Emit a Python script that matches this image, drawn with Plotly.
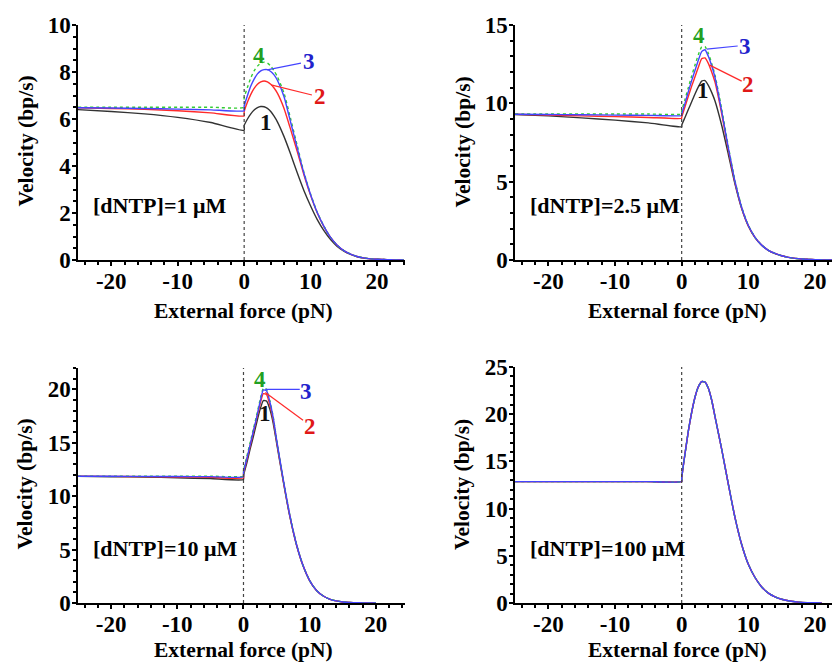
import plotly.graph_objects as go

# external force (pN); 0 appears twice because of the jump at zero force
force = [-25, -20, -15, -10, -5, 0, 0, 0.5, 1, 1.5, 2, 2.5, 3, 3.5, 4, 4.5, 5,
         6, 7, 8, 9, 10, 11, 12, 13, 14, 15, 16, 17, 18, 19, 20, 21, 22, 23, 24]

# [dNTP] = 1 uM
v1_black = [6.40, 6.32, 6.22, 6.07, 5.85, 5.52, 5.72, 6.00, 6.22, 6.38, 6.48, 6.53, 6.52, 6.45, 6.32, 6.12, 5.88,
            5.25, 4.50, 3.70, 2.95, 2.30, 1.72, 1.25, 0.87, 0.58, 0.38, 0.24, 0.14, 0.08, 0.05, 0.03, 0.02, 0.01, 0.0, 0.0]
v1_red = [6.48, 6.45, 6.41, 6.35, 6.26, 6.13, 6.30, 6.72, 7.05, 7.30, 7.48, 7.58, 7.62, 7.58, 7.48, 7.32, 7.10,
          6.45, 5.55, 4.60, 3.62, 2.75, 2.00, 1.42, 0.96, 0.63, 0.40, 0.25, 0.15, 0.09, 0.05, 0.03, 0.02, 0.01, 0.0, 0.0]
v1_blue = [6.48, 6.47, 6.45, 6.42, 6.39, 6.35, 6.55, 7.00, 7.40, 7.70, 7.92, 8.05, 8.10, 8.10, 8.02, 7.88, 7.65,
           6.95, 5.85, 4.75, 3.68, 2.78, 2.02, 1.43, 0.96, 0.63, 0.40, 0.25, 0.15, 0.09, 0.05, 0.03, 0.02, 0.01, 0.0, 0.0]
v1_green = [6.50, 6.50, 6.50, 6.50, 6.50, 6.50, 6.90, 7.35, 7.75, 8.05, 8.25, 8.38, 8.42, 8.38, 8.25, 8.05, 7.80,
            7.10, 6.00, 4.85, 3.72, 2.80, 2.03, 1.44, 0.96, 0.63, 0.40, 0.25, 0.15, 0.09, 0.05, 0.03, 0.02, 0.01, 0.0, 0.0]

# [dNTP] = 2.5 uM
v2_black = [9.28, 9.20, 9.07, 8.93, 8.75, 8.50, 8.60, 9.10, 9.60, 10.10, 10.60, 11.05, 11.42, 11.45, 11.15, 10.70, 10.15,
            8.60, 6.75, 4.85, 3.28, 2.17, 1.43, 0.94, 0.62, 0.41, 0.27, 0.17, 0.10, 0.06, 0.04, 0.02, 0.01, 0.0, 0.0, None]
v2_red = [9.30, 9.25, 9.20, 9.15, 9.10, 9.04, 9.10, 9.78, 10.45, 11.10, 11.70, 12.30, 12.85, 12.90, 12.55, 12.00, 11.35,
          9.35, 7.05, 4.95, 3.32, 2.18, 1.44, 0.95, 0.62, 0.42, 0.27, 0.17, 0.10, 0.06, 0.04, 0.02, 0.01, 0.0, 0.0, None]
v2_blue = [9.30, 9.29, 9.27, 9.25, 9.23, 9.22, 9.30, 10.00, 10.75, 11.45, 12.10, 12.75, 13.30, 13.42, 13.00, 12.40, 11.65,
           9.50, 7.15, 5.00, 3.35, 2.20, 1.45, 0.95, 0.62, 0.42, 0.27, 0.17, 0.10, 0.06, 0.04, 0.02, 0.01, 0.0, 0.0, None]
v2_green = [9.32, 9.32, 9.32, 9.32, 9.32, 9.32, 9.50, 10.25, 11.00, 11.75, 12.45, 13.10, 13.60, 13.62, 13.20, 12.55, 11.80,
            9.65, 7.25, 5.05, 3.38, 2.21, 1.45, 0.95, 0.62, 0.42, 0.27, 0.17, 0.10, 0.06, 0.04, 0.02, 0.01, 0.0, 0.0, None]

# [dNTP] = 10 uM
v3_black = [11.85, 11.82, 11.80, 11.72, 11.65, 11.55, 11.90, 13.10, 14.40, 15.60, 16.90, 18.10, 18.95, 18.90, 18.10, 16.80, 15.00,
            11.40, 8.10, 5.45, 3.48, 2.08, 1.20, 0.68, 0.37, 0.20, 0.10, 0.05, 0.03, 0.01, 0.0, 0.0, None, None, None, None]
v3_red = [11.86, 11.85, 11.83, 11.80, 11.76, 11.72, 12.10, 13.40, 14.70, 16.00, 17.30, 18.60, 19.60, 19.50, 18.50, 17.10, 15.20,
          11.50, 8.15, 5.48, 3.50, 2.10, 1.20, 0.68, 0.37, 0.20, 0.10, 0.05, 0.03, 0.01, 0.0, 0.0, None, None, None, None]
v3_blue = [11.87, 11.86, 11.85, 11.84, 11.83, 11.81, 12.20, 13.50, 14.80, 16.10, 17.40, 18.80, 19.95, 19.85, 18.80, 17.30, 15.30,
           11.60, 8.20, 5.50, 3.50, 2.10, 1.20, 0.68, 0.37, 0.20, 0.10, 0.05, 0.03, 0.01, 0.0, 0.0, None, None, None, None]
v3_green = [11.88, 11.88, 11.88, 11.88, 11.88, 11.88, 12.40, 13.70, 15.00, 16.30, 17.60, 19.00, 20.10, 20.00, 18.90, 17.40, 15.35,
            11.65, 8.25, 5.52, 3.51, 2.10, 1.20, 0.68, 0.37, 0.20, 0.10, 0.05, 0.03, 0.01, 0.0, 0.0, None, None, None, None]

# [dNTP] = 100 uM (all four models coincide)
v4 = [12.86, 12.86, 12.86, 12.86, 12.86, 12.86, 13.20, 15.80, 18.20, 20.20, 21.80, 22.90, 23.45, 23.40, 22.75, 21.50, 19.75,
      16.30, 12.60, 9.05, 6.20, 4.10, 2.70, 1.70, 1.05, 0.65, 0.40, 0.24, 0.14, 0.07, 0.04, 0.02, 0.01, None, None, None]

conc_labels = ["[dNTP]=1 μM", "[dNTP]=2.5 μM", "[dNTP]=10 μM", "[dNTP]=100 μM"]
y_max = [10, 15, 22, 25]
y_dtick = [2, 5, 5, 5]
y_minor = [0.5, 1, 1, 1]
x_max = [24.2, 23, 24.4, 23]

series = [
    [v1_black, v1_red, v1_green, v1_blue],
    [v2_black, v2_red, v2_green, v2_blue],
    [v3_black, v3_red, v3_green, v3_blue],
    [v4, v4, v4, v4],
]

# curve number labels: (text, x, y) in data coords, plus leader lines
curve_tags = [
    [("4", 2.25, 8.72), ("3", 9.75, 8.43), ("2", 11.4, 6.94), ("1", 3.3, 5.87)],
    [("4", 2.55, 14.36), ("3", 9.45, 13.6), ("2", 9.9, 11.17), ("1", 3.15, 10.85)],
    [("4", 2.5, 20.9), ("3", 9.45, 19.8), ("2", 10.0, 16.5), ("1", 3.3, 17.75)],
    [],
]
leaders = [
    [((3.45, 8.09), (8.55, 8.38), "blue"), ((4.05, 7.45), (10.2, 7.02), "red")],
    [((3.75, 13.46), (8.4, 13.66), "blue"), ((4.2, 12.44), (9.0, 11.42), "red")],
    [((3.3, 20.0), (8.5, 20.0), "blue"), ((3.3, 19.7), (9.0, 17.1), "red")],
    [],
]

line_colors = {"black": "#333333", "red": "#ff2a2a", "green": "#33cc33", "blue": "#4444ff"}
tag_colors = {"1": "#111111", "2": "#e01818", "3": "#2222cc", "4": "#22a022"}

# panel boxes in window pixels (left, right, top, bottom); the page body adds an 8px margin
OFF = 8
W, H = 840 - OFF, 664 - OFF
boxes = [(78, 405, 25, 260), (515, 835, 25, 260), (78, 405, 368, 603), (515, 835, 367, 603)]
xtitle_gap = [51, 51, 47, 47]


def px(v):
    return (v - OFF) / W


def py(v):
    return 1 - (v - OFF) / H


FONT = "Liberation Serif"
fig = go.Figure()

for i in range(4):
    xa = "x" if i == 0 else f"x{i + 1}"
    ya = "y" if i == 0 else f"y{i + 1}"
    l, r, t, b = boxes[i]
    for vals, name in zip(series[i], ["black", "red", "green", "blue"]):
        fig.add_trace(go.Scatter(
            x=force, y=vals, mode="lines", xaxis=xa, yaxis=ya, showlegend=False,
            line=dict(color=line_colors[name], width=1.4, shape="spline", smoothing=0.5,
                      dash="dot" if name == "green" else "solid")))

    axis_font = dict(family=FONT, size=23, color="black", weight="bold")
    fig.layout[("xaxis" if i == 0 else f"xaxis{i + 1}")] = dict(
        domain=[px(l), px(r)], anchor=ya, range=[-25, x_max[i]], automargin=False,
        showline=True, linecolor="black", linewidth=1.5, showgrid=False, zeroline=False,
        ticks="outside", ticklen=4, tickwidth=1.5, tickcolor="black", ticklabelstandoff=-4,
        tickvals=[-20, -10, 0, 10, 20], ticktext=["-20", "-10", "0", "10", "20"],
        minor=dict(dtick=2, tick0=0, ticks="outside", ticklen=3, tickcolor="black"),
        tickfont=axis_font)
    fig.layout[("yaxis" if i == 0 else f"yaxis{i + 1}")] = dict(
        domain=[py(b), py(t)], anchor=xa, range=[0, y_max[i]], automargin=False,
        showline=True, linecolor="black", linewidth=1.5, showgrid=False, zeroline=False,
        ticks="outside", ticklen=4, tickwidth=1.5, tickcolor="black", ticklabelstandoff=-3,
        dtick=y_dtick[i], tick0=0,
        minor=dict(dtick=y_minor[i], tick0=0, ticks="outside", ticklen=3, tickcolor="black"),
        tickfont=axis_font)

    # dotted line at zero force
    fig.add_shape(type="line", xref=xa, yref=f"{ya} domain", x0=0, x1=0, y0=0, y1=1,
                  line=dict(color="#444444", width=1.2, dash="dot"))

    # axis titles
    fig.add_annotation(xref="paper", yref="paper", x=px((l + r) / 2 + 2), y=py(b + xtitle_gap[i]),
                       xanchor="center", yanchor="middle",
                       text="External force (pN)", showarrow=False,
                       font=dict(family=FONT, size=21.5, color="black", weight="bold"))
    fig.add_annotation(xref="paper", yref="paper", x=px(l - 53), y=py((t + b) / 2 - 1),
                       xanchor="center", yanchor="middle",
                       text="Velocity (bp/s)", showarrow=False, textangle=-90,
                       font=dict(family=FONT, size=21.5, color="black", weight="bold"))

    # concentration label
    fig.add_annotation(xref="paper", yref="paper", x=px(l + 13), y=py(b - 55),
                       xanchor="left", yanchor="middle",
                       text=conc_labels[i], showarrow=False,
                       font=dict(family=FONT, size=22, color="black", weight="bold"))

    for (p0, p1, c) in leaders[i]:
        fig.add_shape(type="line", xref=xa, yref=ya, x0=p0[0], y0=p0[1], x1=p1[0], y1=p1[1],
                      line=dict(color=line_colors[c], width=1.2))
    for txt, tx, ty in curve_tags[i]:
        fig.add_annotation(xref=xa, yref=ya, x=tx, y=ty, text=txt, showarrow=False,
                           xanchor="center", yanchor="middle",
                           font=dict(family=FONT, size=23, color=tag_colors[txt], weight="bold"))

fig.update_layout(width=W, height=H, margin=dict(l=0, r=0, t=0, b=0),
                  paper_bgcolor="white", plot_bgcolor="white")

fig.write_html("out.html")
